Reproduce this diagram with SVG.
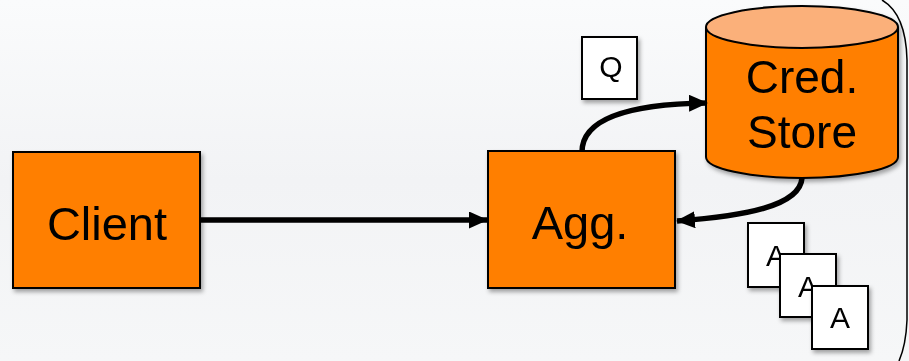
<svg xmlns="http://www.w3.org/2000/svg" width="909" height="361" viewBox="0 0 909 361">
<defs>
<linearGradient id="bg" x1="0" y1="0" x2="0" y2="1">
<stop offset="0" stop-color="#fafbfc"/>
<stop offset="0.5" stop-color="#f2f3f5"/>
<stop offset="1" stop-color="#f6f7f8"/>
</linearGradient>
<filter id="sh" x="-10%" y="-10%" width="130%" height="130%">
<feDropShadow dx="2" dy="3" stdDeviation="2" flood-color="#000" flood-opacity="0.35"/>
</filter>
<marker id="ah" viewBox="0 0 19 17" refX="18" refY="8.5" markerWidth="19" markerHeight="17" markerUnits="userSpaceOnUse" orient="auto">
<path d="M0,0 L19,8.5 L0,17 Z" fill="#000"/>
</marker>
<style>
.box{fill:#ff7f00;stroke:#000;stroke-width:2}
.card{fill:#fff;stroke:#000;stroke-width:2}
.big{font-family:"Liberation Sans",Arial,sans-serif;font-size:47px;fill:#000;text-anchor:middle}
.small{font-family:"Liberation Sans",Arial,sans-serif;font-size:30px;fill:#000;text-anchor:middle}
.conn{fill:none;stroke:#000;stroke-width:5.5}
</style>
</defs>
<rect width="909" height="361" fill="url(#bg)"/>
<path d="M 882 0 Q 906 14 907 60 L 907 320 Q 906 345 899 361" fill="none" stroke="#000" stroke-width="1.5"/>

<g id="client" filter="url(#sh)">
<rect class="box" x="13" y="152" width="187" height="136"/>
<text class="big" x="107" y="240">Client</text>
</g>

<g id="agg" filter="url(#sh)">
<rect class="box" x="488" y="151" width="187" height="137"/>
<text class="big" x="580" y="239">Agg.</text>
</g>

<g id="store" filter="url(#sh)">
<path class="box" d="M 706 27 L 706 157 A 96 21 0 0 0 898 157 L 898 27"/>
<ellipse cx="802" cy="27" rx="96" ry="21" fill="#fbb07a" stroke="#000" stroke-width="2"/>
<text class="big" x="802" y="93" style="font-size:46px">Cred.</text>
<text class="big" x="802" y="148" style="font-size:46px">Store</text>
</g>

<g id="q" filter="url(#sh)">
<rect class="card" x="582" y="37" width="55" height="62"/>
<text class="small" x="611" y="77">Q</text>
</g>

<g id="a1" filter="url(#sh)">
<rect class="card" x="748" y="223" width="56" height="64"/>
<text class="small" x="776" y="266">A</text>
</g>
<g id="a2" filter="url(#sh)">
<rect class="card" x="780" y="254" width="56" height="63"/>
<text class="small" x="808" y="297">A</text>
</g>
<g id="a3" filter="url(#sh)">
<rect class="card" x="812" y="286" width="56" height="63"/>
<text class="small" x="840" y="328">A</text>
</g>

<g id="connectors">
<path class="conn" d="M 200 220 L 487 220" marker-end="url(#ah)"/>
<path class="conn" d="M 582 152 C 582 118 630 104 707 103" marker-end="url(#ah)"/>
<path class="conn" d="M 802 178 C 800 206 745 216 677 221" marker-end="url(#ah)"/>
</g>
</svg>
